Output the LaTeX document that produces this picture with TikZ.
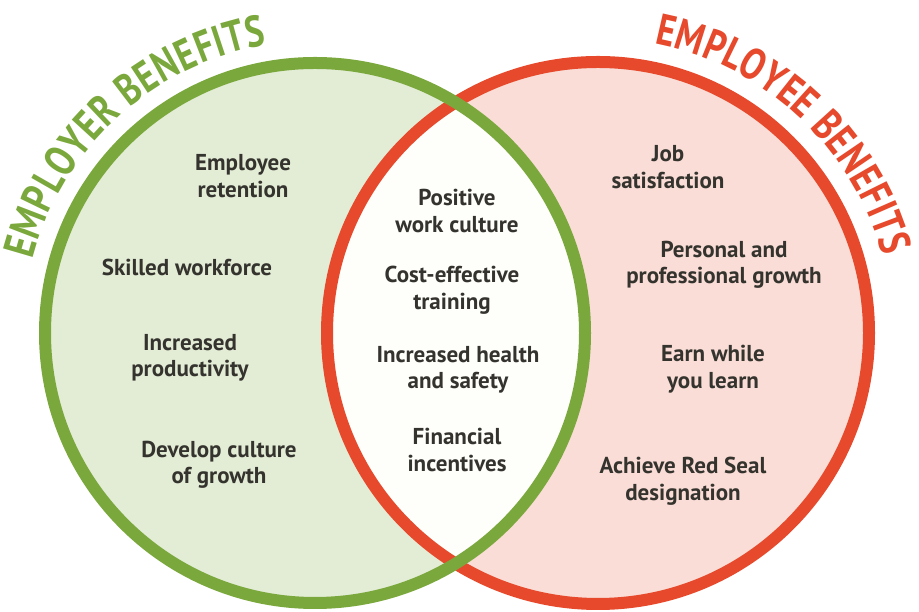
\documentclass[tikz,border=0pt]{standalone}
\usepackage{fontspec}
\setmainfont{PT Sans}
\newfontfamily\titlefont[FakeStretch=0.8]{PT Sans}
\usetikzlibrary{decorations.text}
\definecolor{grnline}{HTML}{7BA83C}
\definecolor{grnfill}{HTML}{E3EDD6}
\definecolor{redline}{HTML}{E6492B}
\definecolor{redfill}{HTML}{F9DDD6}
\definecolor{midfill}{HTML}{FEFEFB}
\definecolor{txt}{HTML}{35332E}
\begin{document}
\begin{tikzpicture}[x=1pt,y=1pt,
  item/.style={align=center, font=\bfseries\fontsize{23}{26.5}\selectfont, text=txt, inner sep=0pt},
  ring/.style={line width=12pt}]
\useasboundingbox (0,0) rectangle (919,612);
\coordinate (G) at (315,279);
\coordinate (R) at (598,279);
\fill[redfill] (R) circle (271);
\fill[grnfill] (G) circle (270);
\begin{scope}
  \clip (G) circle (270);
  \fill[midfill] (R) circle (271);
\end{scope}
\draw[ring, redline] (R) circle (271);
\draw[ring, grnline] (G) circle (270);
% titles
\path[decorate, decoration={text along path, text align=fit to path,
  text={|\titlefont\bfseries\fontsize{44}{44}\selectfont\color{grnline}|EMPLOYER BENEFITS}}]
  ([shift={(165.5:292)}]G) arc[start angle=165.5, end angle=99.5, radius=292];
\path[decorate, decoration={text along path, text align=fit to path,
  text={|\titlefont\bfseries\fontsize{44}{44}\selectfont\color{redline}|EMPLOYEE BENEFITS}}]
  ([shift={(79:295)}]R) arc[start angle=79, end angle=15, radius=295];
% left items
\node[item] (l1) at (243,436) {Employee\\retention};
\node[item] (l2) at (187,345) {Skilled workforce};
\node[item] (l3) at (190,254) {Increased\\productivity};
\node[item] (l4) at (219,147) {Develop culture\\of growth};
% middle items
\node[item] (m1) at (457,401) {Positive\\work culture};
\node[item] (m2) at (452,322) {Cost-effective\\training};
\node[item] (m3) at (458,242) {Increased health\\and safety};
\node[item] (m4) at (457,162) {Financial\\incentives};
% right items
\node[item] (r1) at (668,445) {Job\\satisfaction};
\node[item] (r2) at (724,347) {Personal and\\professional growth};
\node[item] (r3) at (713,243) {Earn while\\you learn};
\node[item] (r4) at (683,131) {Achieve Red Seal\\designation};
\end{tikzpicture}
\end{document}
